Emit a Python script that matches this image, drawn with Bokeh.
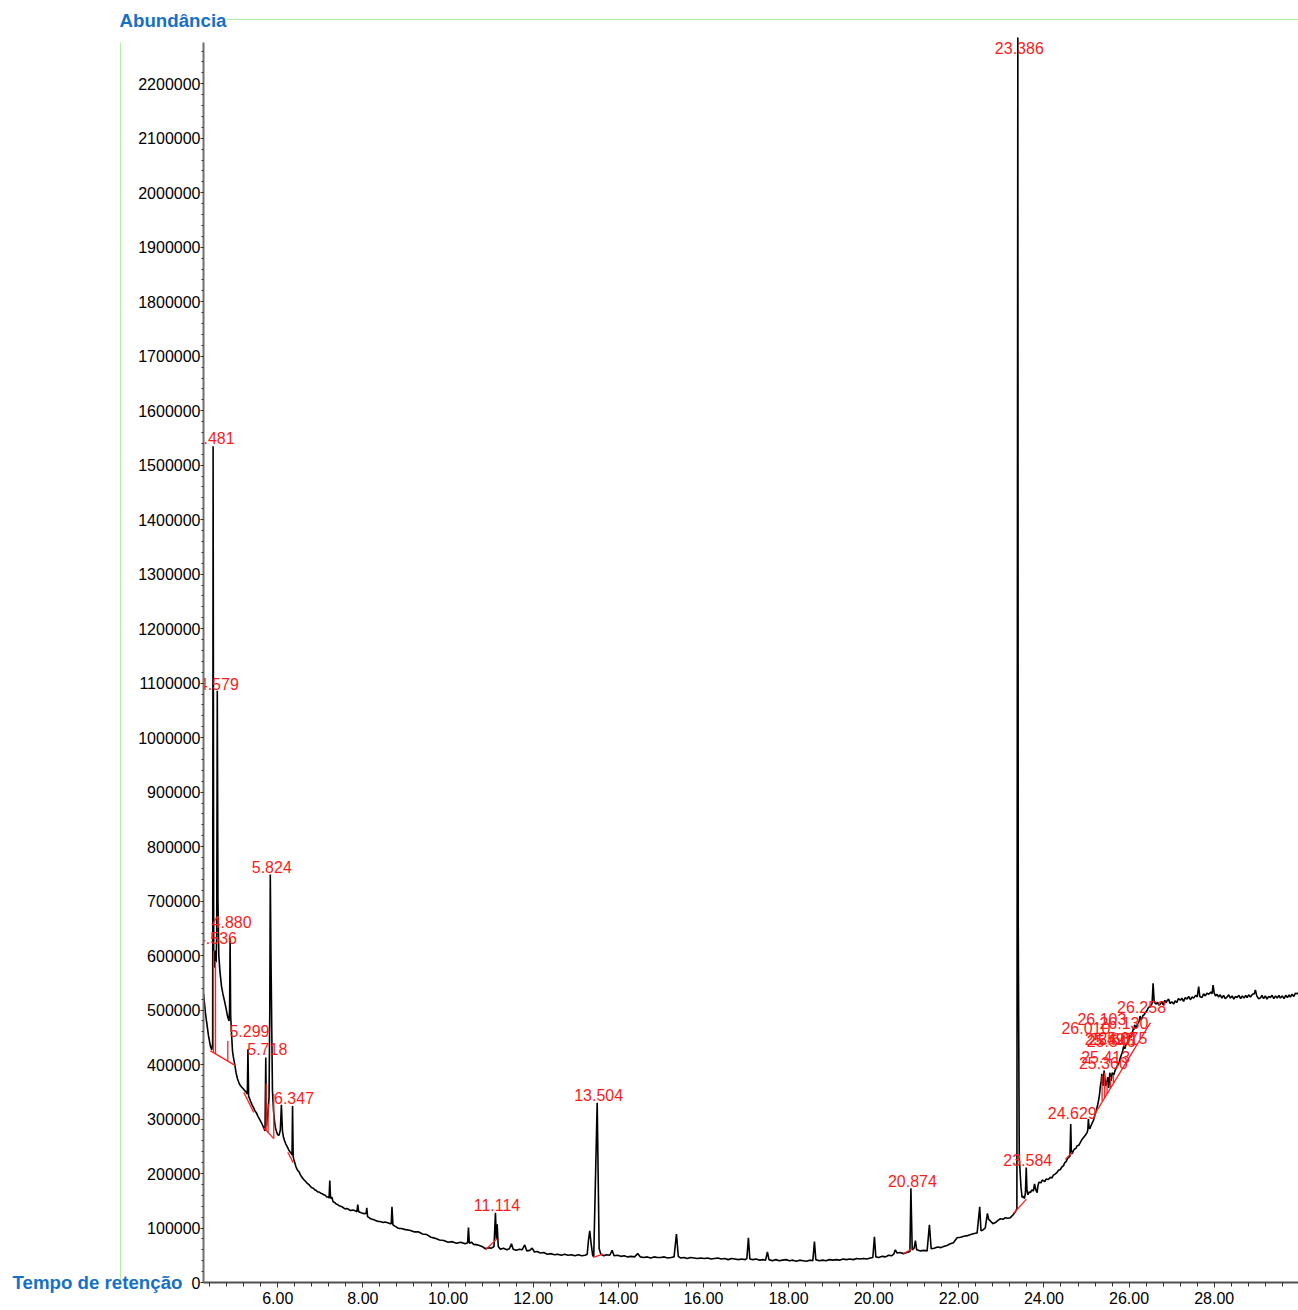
import numpy as np
from bokeh.plotting import figure
from bokeh.models import (Range1d, SingleIntervalTicker, NumeralTickFormatter, FixedTicker,
                          LinearAxis, ColumnDataSource)
from bokeh.core.properties import value
from bokeh.embed import file_html
from bokeh.resources import INLINE

# ---- chromatogram trace: retention time (min) and abundance (thousands) ----
rt_min = [
    4.257, 4.300, 4.325, 4.372, 4.419, 4.450, 4.470, 4.481, 4.495, 4.510, 4.536, 4.552, 4.565, 4.579,
    4.595, 4.615, 4.640, 4.677, 4.710, 4.748, 4.785, 4.819, 4.854, 4.868, 4.880, 4.893, 4.915, 4.936,
    4.960, 4.983, 5.020, 5.053, 5.090, 5.124, 5.160, 5.194, 5.225, 5.253, 5.285, 5.299, 5.315, 5.340,
    5.359, 5.395, 5.429, 5.465, 5.500, 5.535, 5.570, 5.605, 5.641, 5.675, 5.700, 5.718, 5.735, 5.750,
    5.765, 5.795, 5.812, 5.824, 5.840, 5.858, 5.875, 5.900, 5.925, 5.950, 5.975, 6.000, 6.030, 6.060,
    6.085, 6.110, 6.135, 6.160, 6.185, 6.210, 6.235, 6.260, 6.285, 6.310, 6.335, 6.347, 6.362, 6.380,
    6.400, 6.425, 6.450, 6.475, 6.500, 6.530, 6.560, 6.590, 6.620, 6.650, 6.680, 6.710, 6.740, 6.770,
    6.800, 6.835, 6.870, 6.905, 6.940, 6.975, 7.010, 7.045, 7.080, 7.115, 7.150, 7.185, 7.205, 7.222,
    7.240, 7.270, 7.300, 7.335, 7.370, 7.405, 7.440, 7.475, 7.510, 7.545, 7.580, 7.615, 7.650, 7.685,
    7.720, 7.760, 7.800, 7.835, 7.860, 7.879, 7.900, 7.930, 7.960, 7.995, 8.030, 8.060, 8.075, 8.091,
    8.110, 8.145, 8.180, 8.220, 8.260, 8.295, 8.330, 8.365, 8.400, 8.440, 8.480, 8.520, 8.560, 8.600,
    8.640, 8.665, 8.683, 8.705, 8.740, 8.780, 8.820, 8.860, 8.900,
    9.00, 9.10, 9.20, 9.30, 9.40, 9.50, 9.60, 9.70, 9.80, 9.90, 10.00, 10.10, 10.20, 10.30, 10.40,
    10.46, 10.480, 10.50, 10.55, 10.60, 10.70, 10.80, 10.88, 10.95, 11.02, 11.08, 11.114, 11.135,
    11.154, 11.18, 11.23, 11.30, 11.38, 11.44, 11.490, 11.53, 11.60, 11.68, 11.74, 11.802, 11.85,
    11.92, 11.976, 12.03, 12.10, 12.17, 12.25, 12.33, 12.41, 12.50, 12.58, 12.66, 12.74, 12.82, 12.90,
    12.98, 13.06, 13.14, 13.22, 13.27, 13.300, 13.329, 13.362, 13.400, 13.423, 13.504, 13.550, 13.590,
    13.658, 13.72, 13.80, 13.855, 13.90, 13.98, 14.06, 14.14, 14.22, 14.30, 14.38, 14.457, 14.52,
    14.60, 14.68, 14.76, 14.84, 14.92, 15.00, 15.08, 15.16, 15.24, 15.31, 15.366, 15.41, 15.46, 15.54,
    15.62, 15.70, 15.78, 15.86, 15.94, 16.02, 16.10, 16.18, 16.26, 16.34, 16.42, 16.50, 16.58, 16.66,
    16.74, 16.82, 16.90, 16.98, 17.02, 17.057, 17.09, 17.16, 17.24, 17.32, 17.40, 17.46, 17.503, 17.54,
    17.62, 17.70, 17.78, 17.86, 17.94, 18.02, 18.10, 18.18, 18.26, 18.34, 18.42, 18.50, 18.57, 18.608,
    18.64, 18.72, 18.80, 18.88, 18.96, 19.04, 19.12, 19.20, 19.28, 19.36, 19.44, 19.52, 19.60, 19.68,
    19.76, 19.84, 19.92, 19.98, 20.017, 20.05, 20.12, 20.20, 20.28, 20.35, 20.42, 20.47, 20.508, 20.55,
    20.62, 20.698, 20.78, 20.851, 20.874, 20.905, 20.95, 20.980, 21.01, 21.10, 21.18, 21.255, 21.309,
    21.35, 21.42, 21.50, 21.58, 21.64, 21.72, 21.80, 21.873, 21.92, 21.96, 22.04, 22.12, 22.20, 22.28,
    22.36, 22.43, 22.491, 22.52, 22.56, 22.62, 22.672, 22.70, 22.741, 22.80, 22.859, 22.92, 22.976,
    23.04, 23.094, 23.15, 23.211, 23.27, 23.329, 23.364,
    23.386, 23.396, 23.420, 23.460, 23.487, 23.515, 23.541, 23.565, 23.584, 23.600, 23.623, 23.650,
    23.682, 23.715, 23.753, 23.778, 23.810, 23.839, 23.860, 23.882, 23.930, 23.960, 23.988, 24.020,
    24.050, 24.100, 24.153, 24.190, 24.220, 24.260, 24.309, 24.340, 24.380, 24.420, 24.457, 24.490,
    24.520, 24.550, 24.575, 24.610, 24.629, 24.645, 24.670, 24.692, 24.720, 24.750, 24.780, 24.820,
    24.856, 24.890, 24.920, 24.950, 24.980, 25.013, 25.030, 25.044, 25.060, 25.080, 25.100, 25.120,
    25.140, 25.162, 25.185, 25.208, 25.230, 25.250, 25.280, 25.305, 25.326, 25.345, 25.360, 25.372,
    25.385, 25.400, 25.413, 25.430, 25.450, 25.475, 25.497, 25.520, 25.535, 25.546, 25.560, 25.575,
    25.590, 25.601, 25.620, 25.640, 25.670, 25.700, 25.730, 25.760, 25.800, 25.830, 25.850, 25.875,
    25.900, 25.925, 25.950, 25.980, 26.010, 26.030, 26.050, 26.075, 26.103, 26.115, 26.130, 26.150,
    26.170, 26.195, 26.220, 26.240, 26.258, 26.280, 26.300, 26.325, 26.350, 26.385, 26.420, 26.450,
    26.480, 26.510, 26.540, 26.564, 26.590,
    26.630, 26.670, 26.700, 26.735, 26.770, 26.800, 26.840, 26.870, 26.892, 26.930, 26.960, 27.000,
    27.048, 27.080, 27.120, 27.160, 27.205, 27.240, 27.280, 27.320, 27.362, 27.400, 27.440, 27.480,
    27.518, 27.560, 27.600, 27.635, 27.660, 27.715, 27.750, 27.790, 27.830, 27.870, 27.920, 27.950,
    27.973, 28.000, 28.030, 28.067, 28.100, 28.140, 28.180, 28.220, 28.260, 28.302, 28.340, 28.380,
    28.420, 28.460, 28.500, 28.537, 28.580, 28.620, 28.660, 28.700, 28.740, 28.772, 28.810, 28.850,
    28.900, 28.940, 28.967, 29.000, 29.040, 29.084, 29.120, 29.160, 29.200, 29.240, 29.280, 29.319,
    29.360, 29.400, 29.440, 29.480, 29.520, 29.554, 29.600, 29.640, 29.680, 29.720, 29.760, 29.789,
    29.830, 29.870, 29.910, 29.954, 29.980,
]
abund_k = [
    530, 495, 480, 453, 433, 427, 440, 1535, 590, 578, 609, 588, 640, 1086,
    700, 600, 572, 544, 530, 517, 503, 489, 480, 500, 632, 490, 455, 425,
    412, 403, 385, 374, 366, 361, 358, 355, 352, 350, 346, 428, 342, 337,
    333, 326, 321, 315, 311, 305, 300, 295, 289, 283, 278, 413, 287, 300,
    306, 340, 500, 749, 600, 470, 352, 315, 295, 282, 276, 271, 270, 280,
    326, 278, 266, 260, 255, 251, 247, 243, 240, 238, 234, 324, 231, 225,
    220, 213, 208, 205, 203, 198, 194, 191, 188, 186, 183, 181, 179, 176,
    174, 173, 170, 169, 166, 166, 164, 163, 161, 160, 157, 157, 155, 187,
    154, 157, 148, 147, 144, 143, 141, 140, 139, 137, 135, 136, 135, 133,
    132, 133, 132, 131, 130, 143, 130, 129, 128, 127, 126, 127, 126, 137,
    121, 119, 117, 116, 115, 114, 113, 112, 112, 111, 110, 111, 110, 109,
    108, 108, 139, 106, 104, 102, 100, 99, 99,
    97, 96, 93, 93, 89, 88, 83, 81, 78, 77, 74, 75, 72, 74, 71,
    73, 101, 72, 74, 70, 69, 66, 62, 64, 63, 66, 128, 80,
    107, 66, 61, 63, 60, 62, 71, 61, 59, 61, 60, 69, 58,
    59, 63, 56, 57, 54, 55, 52, 53, 51, 52, 50, 52, 50, 51,
    49, 51, 49, 50, 52, 78, 95, 71, 49, 48, 330, 62, 52,
    49, 51, 50, 59, 49, 50, 48, 49, 47, 48, 47, 53, 47,
    46, 47, 45, 47, 46, 46, 47, 45, 46, 47, 89, 48, 45, 46,
    44, 46, 45, 44, 45, 44, 45, 43, 44, 45, 43, 44, 42, 44,
    43, 42, 43, 42, 44, 82, 43, 42, 43, 41, 42, 41, 56, 42,
    40, 42, 40, 41, 42, 40, 41, 39, 41, 40, 39, 41, 40, 75,
    42, 40, 41, 40, 42, 41, 42, 41, 43, 42, 43, 42, 44, 43,
    44, 43, 45, 46, 84, 47, 46, 48, 47, 50, 49, 52, 60, 54,
    55, 53, 55, 57, 173, 60, 63, 77, 60, 58, 59, 58, 106,
    62, 63, 65, 64, 66, 68, 71, 73, 78, 82, 83, 85, 86, 88,
    90, 91, 139, 95, 96, 100, 127, 116, 113, 108, 110, 114, 117,
    116, 119, 118, 119, 124, 130, 135,
    2285, 660, 230, 175, 156, 158, 154, 165, 211, 170, 161, 166,
    165, 170, 168, 181, 170, 165, 178, 184, 183, 188, 187, 185,
    190, 189, 193, 192, 197, 199, 202, 206, 207, 212, 214, 220,
    222, 227, 229, 232, 291, 236, 238, 242, 245, 246, 251, 252,
    257, 262, 265, 268, 271, 275, 280, 300, 284, 282, 287, 290,
    294, 297, 304, 310, 316, 322, 333, 345, 361, 370, 383, 368,
    361, 372, 389, 375, 361, 365, 377, 357, 368, 385, 378, 370,
    376, 385, 383, 381, 389, 394, 398, 403, 414, 420, 425, 434,
    429, 436, 438, 443, 455, 449, 451, 458, 467, 464, 473, 470,
    467, 474, 477, 481, 489, 482, 484, 490, 491, 496, 499, 504,
    506, 508, 512, 549, 515,
    511, 514, 509, 511, 516, 510, 518, 513, 517, 520, 512, 515,
    511, 517, 514, 521, 518, 522, 516, 523, 520, 525, 519, 524,
    522, 527, 524, 543, 525, 523, 530, 526, 531, 529, 533, 530,
    546, 531, 526, 529, 524, 528, 522, 527, 521, 524, 528, 522,
    526, 520, 525, 523, 527, 521, 526, 522, 527, 523, 528, 524,
    529, 530, 537, 526, 521, 522, 527, 521, 526, 520, 525, 523,
    527, 521, 526, 522, 527, 522, 526, 521, 527, 523, 528, 524,
    529, 525, 531, 530, 532,
]

# ---- integrated peaks: label text, label anchor (min) and label height (thousands) ----
peak_labels = ["4.481", "4.579", "4.536", "4.880", "5.824", "5.299", "5.718", "6.347",
               "11.114", "13.504", "20.874", "23.386", "23.584", "24.629", "25.360", "25.413",
               "25.497", "25.546", "25.601", "25.875", "26.010", "26.103", "26.130", "26.258"]
label_x = [4.481, 4.579, 4.536, 4.880, 5.824, 5.299, 5.718, 6.347,
           11.114, 13.504, 20.874, 23.386, 23.584, 24.629, 25.360, 25.413,
           25.497, 25.546, 25.601, 25.819, 24.950, 25.326, 25.843, 26.258]
label_y_k = [1550, 1098, 632, 661, 763, 462, 428, 338,
             143, 344, 186, 2266, 225, 312, 402, 414,
             446, 443, 446, 449, 467, 484, 477, 506]

# ---- integration baselines and drop lines (start/end time, start/end abundance in thousands) ----
base_t0 = [4.419, 4.490, 4.537, 4.826, 5.201, 5.671, 5.728, 5.774, 5.906, 6.235, 10.879,
           13.409, 20.698, 23.289, 24.504, 25.208, 25.366, 25.427, 25.483, 25.561, 25.631]
base_a0_k = [425, 422, 420, 406, 349, 284, 279, 275, 264, 239, 60,
             46, 53, 127, 226, 311, 332, 339, 346, 356, 366]
base_t1 = [5.006, 4.490, 4.537, 4.826, 5.436, 5.906, 5.728, 5.774, 5.906, 6.362, 11.161,
           13.644, 20.910, 23.588, 24.661, 26.501, 25.366, 25.427, 25.483, 25.561, 25.631]
base_a1_k = [398, 609, 590, 443, 312, 264, 365, 328, 346, 220, 81,
             52, 62, 153, 239, 477, 379, 385, 368, 378, 382]

AXIS_FONT = "Liberation Sans"
TITLE_BLUE = "#1670c8"
GUIDE_GREEN = "#b2eea4"

Y_TOP = 2318000          # top of the plotting area
Y_AXIS_END = 2275000     # where the drawn abundance axis stops
Y_TITLE = 2317000        # height of the abundance title
X_RULE_START = 4.795     # start of the rule that runs right of "Abundância"

trace = ColumnDataSource(dict(rt=rt_min, ab=np.array(abund_k) * 1000))
labels = ColumnDataSource(dict(x=label_x, y=np.array(label_y_k) * 1000, text=peak_labels))
bases = ColumnDataSource(dict(x0=base_t0, y0=np.array(base_a0_k) * 1000,
                              x1=base_t1, y1=np.array(base_a1_k) * 1000))

p = figure(width=1298, height=1310, output_backend="svg", toolbar_location=None,
           x_range=Range1d(4.255, 29.98), y_range=Range1d(0, Y_TOP),
           min_border_left=203, min_border_right=0, min_border_top=19, min_border_bottom=28)
p.outline_line_color = None
p.xgrid.visible = False
p.ygrid.visible = False
p.background_fill_color = "white"
p.border_fill_color = "white"

p.line("rt", "ab", source=trace, line_color="black", line_width=1.6)
p.segment("x0", "y0", "x1", "y1", source=bases, line_color="#ff2020", line_width=1.3)
p.text("x", "y", text="text", source=labels, text_font=value(AXIS_FONT),
       text_font_size=value("16px"), text_color="#ff1a1a", text_align="center",
       text_baseline="middle", x_offset=1.5)

# abundance axis
ya = p.yaxis[0]
ya.ticker = SingleIntervalTicker(interval=100000, num_minor_ticks=5)
ya.formatter = NumeralTickFormatter(format="0")
ya.bounds = (0, Y_AXIS_END)
ya.axis_line_color = "#707070"
ya.axis_line_width = 2
ya.major_tick_in = 0
ya.major_tick_out = 3
ya.minor_tick_in = 0
ya.minor_tick_out = 2
ya.major_tick_line_color = "#333333"
ya.minor_tick_line_color = "#333333"
ya.major_label_standoff = 0
ya.major_label_text_font = AXIS_FONT
ya.major_label_text_font_size = "16px"
ya.major_label_text_color = "black"
# blank title only to leave a gap before the guide rule on the far left
ya.axis_label = " "
ya.axis_label_text_font_size = "1px"
ya.axis_label_standoff = 11

# retention-time axis
xa = p.xaxis[0]
xa.ticker = SingleIntervalTicker(interval=2, num_minor_ticks=5)
xa.formatter = NumeralTickFormatter(format="0.00")
xa.axis_line_color = "#505050"
xa.axis_line_width = 2
xa.major_tick_in = 0
xa.major_tick_out = 5
xa.minor_tick_in = 0
xa.minor_tick_out = 4
xa.major_tick_line_color = "#333333"
xa.minor_tick_line_color = "#333333"
xa.major_label_standoff = 4
xa.major_label_text_font = AXIS_FONT
xa.major_label_text_font_size = "16px"
xa.major_label_text_color = "black"


def title_axis(ticks, overrides, standoff, line_color=None, bounds="auto"):
    ax = LinearAxis(ticker=FixedTicker(ticks=ticks), major_label_overrides=overrides,
                    bounds=bounds)
    ax.axis_line_color = line_color
    ax.axis_line_width = 1
    ax.major_tick_in = 0
    ax.major_tick_out = 0
    ax.minor_tick_in = 0
    ax.minor_tick_out = 0
    ax.major_tick_line_color = None
    ax.minor_tick_line_color = None
    ax.major_label_standoff = standoff
    ax.major_label_text_font = AXIS_FONT
    ax.major_label_text_font_style = "bold"
    ax.major_label_text_font_size = "18.7px"
    ax.major_label_text_color = TITLE_BLUE
    return ax


# green guide rule on the left, carrying the time-axis title at its foot
p.add_layout(title_axis([0], {0: "Tempo de retenção"}, -62, GUIDE_GREEN, (0, Y_AXIS_END)), "left")
# abundance-axis title, top left
p.add_layout(title_axis([Y_TITLE], {Y_TITLE: "Abundância"}, -217), "left")
# green guide rule along the top
p.add_layout(title_axis([], {}, 0, GUIDE_GREEN, (X_RULE_START, 29.98)), "above")

open("out.html", "w").write(file_html(p, INLINE))
